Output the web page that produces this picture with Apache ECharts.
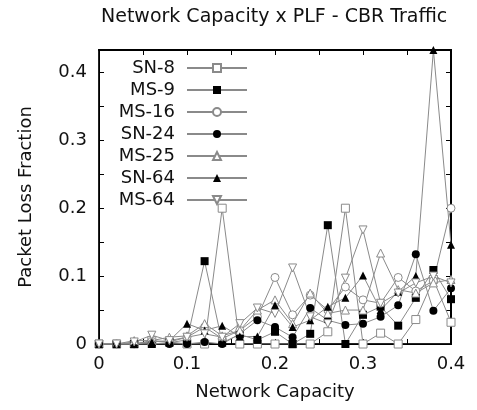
<!DOCTYPE html>
<html>
<head>
<meta charset="utf-8">
<script src="https://cdn.jsdelivr.net/npm/echarts@6/dist/echarts.min.js"></script>
<style>
  html, body { margin: 0; padding: 0; background: #fff; }
  #chart { width: 477px; height: 410px; }
</style>
</head>
<body>
<div id="chart"></div>
<script>
// x: network capacity
var capacity = [0, 0.02, 0.04, 0.06, 0.08, 0.10, 0.12, 0.14, 0.16, 0.18, 0.20,
                0.22, 0.24, 0.26, 0.28, 0.30, 0.32, 0.34, 0.36, 0.38, 0.40];

// packet loss fraction, per configuration
var sn8  = [0, 0, 0, 0.005, 0.003, 0, 0, 0.2, 0, 0, 0, 0, 0, 0.018, 0.2, 0, 0.016, 0, 0.036, 0.095, 0.032];
var ms9  = [0, 0, 0, 0, 0.002, 0.006, 0.122, 0.002, 0.014, 0.006, 0.018, 0, 0.015, 0.175, 0, 0.043, 0.055, 0.027, 0.068, 0.109, 0.066];
var ms16 = [0, 0, 0, 0.004, 0.003, 0.01, 0.025, 0.008, 0.02, 0.04, 0.098, 0.043, 0.072, 0.05, 0.084, 0.065, 0.06, 0.098, 0.078, 0.093, 0.2];
var sn24 = [0, 0, 0, 0, 0, 0, 0.003, 0, 0.015, 0.035, 0.025, 0.01, 0.053, 0.035, 0.028, 0.03, 0.04, 0.057, 0.132, 0.049, 0.082];
var ms25 = [0, 0, 0.005, 0.005, 0.01, 0.012, 0.03, 0.012, 0.02, 0.05, 0.065, 0.03, 0.075, 0.045, 0.05, 0.05, 0.134, 0.08, 0.075, 0.09, 0.095];
var sn64 = [0, 0, 0, 0.003, 0.005, 0.03, 0.02, 0.027, 0.011, 0.011, 0.057, 0.025, 0.035, 0.055, 0.068, 0.101, 0.05, 0.077, 0.1, 0.433, 0.146];
var ms64 = [0, 0, 0.003, 0.013, 0.005, 0.01, 0.015, 0.01, 0.03, 0.053, 0.045, 0.112, 0.04, 0.03, 0.097, 0.168, 0.06, 0.075, 0.09, 0.1, 0.09];

var xMax = 0.4;
var yMax = 0.433;

var seriesNames = ['SN-8', 'MS-9', 'MS-16', 'SN-24', 'MS-25', 'SN-64', 'MS-64'];
var seriesData  = [sn8, ms9, ms16, sn24, ms25, sn64, ms64];
var symbols     = ['rect', 'rect', 'circle', 'circle', 'triangle', 'triangle', 'triangle'];
var filled      = [false, true, false, true, false, true, false];
var rotates     = [0, 0, 0, 0, 0, 0, 180];

var FONT = 'DejaVu Sans';

function pairs(ys) {
    var out = [];
    for (var i = 0; i < ys.length; i++) {
        out.push([capacity[i], ys[i]]);
    }
    return out;
}

//只显示0.1的整数倍
function tenthLabel(v) {
    var n = Math.round(v * 100);
    if (n % 10 !== 0) return '';
    return String(+(n / 100).toFixed(1));
}

var series = [];
for (var k = 0; k < seriesNames.length; k++) {
    series.push({
        name: seriesNames[k],
        type: 'line',
        data: pairs(seriesData[k]),
        symbol: symbols[k],
        symbolSize: 8,
        symbolRotate: rotates[k],
        showAllSymbol: true,
        lineStyle: { color: '#8a8a8a', width: 1 },
        itemStyle: filled[k]
            ? { color: '#000', borderColor: '#000', borderWidth: 0 }
            : { color: '#fff', borderColor: '#8a8a8a', borderWidth: 1 },
        emphasis: { disabled: true }
    });
}
// 镜像坐标轴用的空系列
series.push({
    type: 'line',
    xAxisIndex: 1,
    yAxisIndex: 1,
    data: []
});

var chart = echarts.init(document.getElementById('chart'));
var option = {
    animation: false,
    title: {
        text: 'Network Capacity x PLF - CBR Traffic',
        left: 96,
        top: 3,
        textStyle: { fontFamily: FONT, fontSize: 19, fontWeight: 'normal', color: '#111' }
    },
    legend: {
        orient: 'vertical',
        align: 'right',
        right: 229,
        top: 59,
        padding: 0,
        itemWidth: 60,
        itemHeight: 10,
        itemGap: 4,
        textStyle: { fontFamily: FONT, fontSize: 18, color: '#111', padding: [0, 7, 0, 0] },
        data: seriesNames
    },
    grid: { left: 99, right: 26, top: 50, bottom: 66, show: true, borderColor: '#222', borderWidth: 2 },
    xAxis: [{
        type: 'value',
        min: 0, max: xMax, interval: 0.05,
        name: 'Network Capacity',
        nameLocation: 'middle',
        nameGap: 39,
        nameTextStyle: { fontFamily: FONT, fontSize: 18, color: '#111' },
        axisLine: { show: true, onZero: false, lineStyle: { color: '#000', width: 1 } },
        axisTick: { inside: true, length: 5, lineStyle: { color: '#000', width: 1 } },
        axisLabel: { formatter: tenthLabel, margin: 11, fontFamily: FONT, fontSize: 18, color: '#111' },
        splitLine: { show: false }
    }, {
        type: 'value', position: 'top',
        min: 0, max: xMax, interval: 0.05,
        axisLine: { show: true, onZero: false, lineStyle: { color: '#000', width: 2 } },
        axisTick: { show: true, inside: true, length: 5, lineStyle: { color: '#000', width: 1 } },
        axisLabel: { show: true, color: '#fff', fontSize: 1 },
        splitLine: { show: false }
    }],
    yAxis: [{
        type: 'value',
        min: 0, max: yMax, interval: 0.05,
        name: 'Packet Loss Fraction',
        nameLocation: 'middle',
        nameGap: 64,
        nameTextStyle: { fontFamily: FONT, fontSize: 18, color: '#111' },
        axisLine: { show: true, onZero: false, lineStyle: { color: '#000', width: 1 } },
        axisTick: { inside: true, length: 5, lineStyle: { color: '#000', width: 1 } },
        axisLabel: { formatter: tenthLabel, margin: 12, fontFamily: FONT, fontSize: 18, color: '#111', showMaxLabel: false },
        splitLine: { show: false }
    }, {
        type: 'value', position: 'right',
        min: 0, max: yMax, interval: 0.05,
        axisLine: { show: true, onZero: false, lineStyle: { color: '#000', width: 2 } },
        axisTick: { show: true, inside: true, length: 5, lineStyle: { color: '#000', width: 1 } },
        axisLabel: { show: true, color: '#fff', fontSize: 1 },
        splitLine: { show: false }
    }],
    series: series
};
chart.setOption(option);
</script>
</body>
</html>
